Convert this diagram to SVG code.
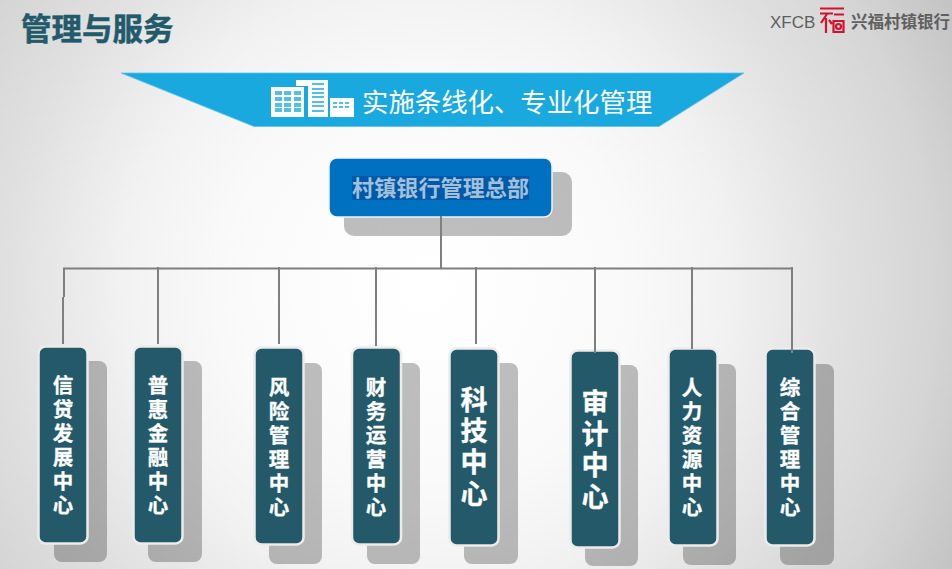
<svg xmlns="http://www.w3.org/2000/svg" width="952" height="569" viewBox="0 0 952 569">
<style>
text{font-family:"Noto Sans CJK SC","Liberation Sans",sans-serif}
.sh{fill:#000;fill-opacity:.25}
.box{fill:#235968;stroke:#ececec;stroke-width:2.500}
.lb{fill:#fff;stroke:#fff;stroke-width:.3;font-weight:700;font-size:20.500px;text-anchor:middle}
.lg{fill:#fff;stroke:#fff;stroke-width:.3;font-weight:700;font-size:27px;text-anchor:middle}
.cn{stroke:#7f7f7f;stroke-width:2;fill:none}
.wb{fill:#1aa9df;fill-opacity:.75}
.rd{stroke:#d5112e;stroke-width:2.200;fill:none}
</style>
<defs>
<radialGradient id="bg" gradientUnits="userSpaceOnUse" cx="425" cy="285" r="600">
<stop offset="0" stop-color="#fff"/><stop offset=".15" stop-color="#fdfdfd"/><stop offset=".35" stop-color="#f9f9f9"/><stop offset=".5" stop-color="#f2f2f2"/><stop offset=".7" stop-color="#e0e0e0"/><stop offset=".85" stop-color="#d5d5d5"/><stop offset="1" stop-color="#c3c3c3"/>
</radialGradient>
</defs>
<rect id="background" width="952" height="569" fill="url(#bg)"/>
<g id="title"><text x="21" y="40" font-size="30.500" font-weight="700" fill="#235a6b" stroke="#235a6b" stroke-width=".5">管理与服务</text></g>
<g id="logo">
<text x="770" y="28" font-size="17" fill="#5f5f5f" style="font-family:'Liberation Sans',sans-serif">XFCB</text>
<path class="rd" d="M820 8.500h24M820 13.500h13M834 14.500h10M827 14l-6 9M826 18v15M829 20l3 4M833.500 21h10v11h-10z"/>
<circle class="rd" cx="838.500" cy="26.500" r="2.500" stroke-width="1.500"/>
<text x="851" y="28" font-size="16.500" font-weight="700" fill="#606060">兴福村镇银行</text>
</g>
<g id="banner">
<polygon points="121,73 744,73 659,126.500 254,126.500" fill="#1aa9df" stroke="#5cc3ea" stroke-width=".8"/>
<g id="buildings">
<rect x="271" y="87" width="33" height="30" fill="#fff"/>
<path class="wb" d="M275 91h7v4h-7zM284 91h7v4h-7zM294 91h7v4h-7zM275 97h7v4h-7zM284 97h7v4h-7zM294 97h7v4h-7zM275 103h7v4h-7zM284 103h7v4h-7zM294 103h7v4h-7zM275 108h7v4h-7zM284 108h7v4h-7zM294 108h7v4h-7z"/>
<path d="M296 80h32v37h-20v-31h-12z" fill="#fff"/>
<path class="wb" d="M312 83h12v2h-12zM312 88h12v2h-12zM312 92h12v2h-12zM312 96h12v2h-12zM312 101h12v2h-12zM312 105h12v2h-12zM312 110h12v2h-12z"/>
<rect x="330" y="98" width="24" height="19" fill="#fff"/>
<path class="wb" d="M333 102h4v2h-4zM339 102h4v2h-4zM345 102h4v2h-4zM333 106h4v2h-4zM339 106h4v2h-4zM345 106h4v2h-4z"/>
</g>
<text x="362" y="112" font-size="26.400" fill="#fff">实施条线化、专业化管理</text>
</g>
<g id="root">
<rect class="sh" x="344" y="172" width="228" height="64" rx="10"/>
<rect x="329" y="158" width="223" height="59" rx="8" fill="#0070c0" stroke="#f2f2f2" stroke-width="1.500"/>
<rect x="352" y="176" width="177" height="24" fill="#0059a9"/>
<text x="352" y="196" font-size="22" font-weight="700" fill="#a2c0d9" textLength="177">村镇银行管理总部</text>
</g>
<g id="n1"><rect class="sh" x="54" y="361" width="53" height="201" rx="8"/><rect class="box" x="38.500" y="346.500" width="49" height="197" rx="7"/><text class="lb" x="63 63 63 63 63 63" y="393 417 441 465 489 513">信贷发展中心</text></g>
<g id="n2"><rect class="sh" x="148" y="361" width="54" height="201" rx="8"/><rect class="box" x="133.500" y="346.500" width="49" height="197" rx="7"/><text class="lb" x="158 158 158 158 158 158" y="393 417 441 465 489 513">普惠金融中心</text></g>
<g id="n3"><rect class="sh" x="269" y="363" width="53" height="201" rx="8"/><rect class="box" x="254.500" y="347.500" width="49" height="197" rx="7"/><text class="lb" x="279 279 279 279 279 279" y="395 419 443 467 491 515">风险管理中心</text></g>
<g id="n4"><rect class="sh" x="367" y="363" width="53" height="201" rx="8"/><rect class="box" x="352" y="347.500" width="49" height="197" rx="7"/><text class="lb" x="376 376 376 376 376 376" y="395 419 443 467 491 515">财务运营中心</text></g>
<g id="n5"><rect class="sh" x="464" y="363" width="54" height="201" rx="8"/><rect class="box" x="449.500" y="348.500" width="49" height="197" rx="7"/><text class="lg" x="474 474 474 474" y="410 441 472 504">科技中心</text></g>
<g id="n6"><rect class="sh" x="585" y="365" width="53" height="201" rx="8"/><rect class="box" x="570.500" y="350.500" width="49" height="197" rx="7"/><text class="lg" x="595 595 595 595" y="413 444 475 507">审计中心</text></g>
<g id="n7"><rect class="sh" x="683" y="364" width="53" height="201" rx="8"/><rect class="box" x="668.500" y="348.500" width="49" height="197" rx="7"/><text class="lb" x="692 692 692 692 692 692" y="395 419 443 467 491 515">人力资源中心</text></g>
<g id="n8"><rect class="sh" x="780" y="364" width="54" height="201" rx="8"/><rect class="box" x="765.500" y="348.500" width="49" height="197" rx="7"/><text class="lb" x="790 790 790 790 790 790" y="395 419 443 467 491 515">综合管理中心</text></g>
<g id="connectors">
<path class="cn" d="M441 216V268.500M63 268.500H793M64 268V297M63 297V344M158 267V344M279 267V344M376 267V346M476 267V344M595 267V353M692 267V349M792 267V353"/>
</g>
</svg>
